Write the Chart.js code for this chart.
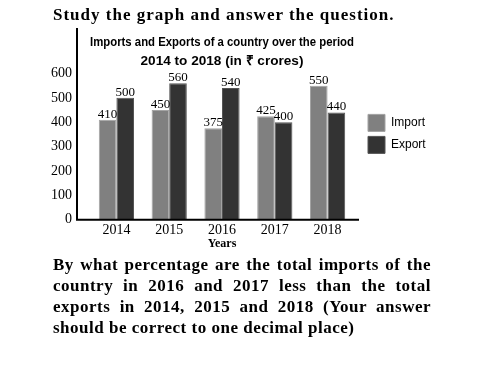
<!DOCTYPE html>
<html>
<head>
<meta charset="utf-8">
<script src="https://cdn.jsdelivr.net/npm/chart.js@4"></script>
<style>
  body { margin: 0; background: #fff; }
  #wrap { position: relative; width: 483px; height: 368px; overflow: hidden; }
  #myChart { position: absolute; left: 0; top: 0; }
  .head { position: absolute; left: 53px; top: 5px; font: bold 17px "Liberation Serif", "Times New Roman", serif; letter-spacing: 1px; color: #000; white-space: nowrap; }
  .question { position: absolute; left: 53px; top: 254px; width: 378px; font: bold 17px/21px "Liberation Serif", "Times New Roman", serif; letter-spacing: 0.5px; text-align: justify; color: #000; }
</style>
</head>
<body>
<div id="wrap">
  <canvas id="myChart" width="483" height="368"></canvas>
  <div class="head">Study the graph and answer the question.</div>
  <div class="question">By what percentage are the total imports of the country in 2016 and 2017 less than the total exports in 2014, 2015 and 2018 (Your answer should be correct to one decimal place)</div>
</div>
<script>
let years = ['2014', '2015', '2016', '2017', '2018'];
let imports = [410, 450, 375, 425, 550];
let exports = [500, 560, 540, 400, 440];
let yTicks = [0, 100, 200, 300, 400, 500, 600];

let ctx = document.getElementById('myChart').getContext('2d');

// axis lines reach past the plot area, and the numbers sit on the bars
const extras = {
    id: 'extras',
    afterDatasetsDraw(chart) {
        let c = chart.ctx,
            a = chart.chartArea,
            top = chart.options.layout.padding.top;
        c.save();
        c.strokeStyle = '#000';
        c.lineWidth = 2;
        c.beginPath();
        c.moveTo(a.left - 13, top);
        c.lineTo(a.left - 13, a.bottom);
        c.lineTo(a.right + 5, a.bottom);
        c.stroke();

        c.font = '13px "Liberation Serif", "Times New Roman", serif';
        c.fillStyle = '#000';
        c.textAlign = 'center';
        c.textBaseline = 'bottom';
        chart.data.datasets.forEach((ds, i) => {
            chart.getDatasetMeta(i).data.forEach((bar, j) => {
                c.fillText(ds.data[j], bar.x, bar.y + 1);
            });
        });
        c.restore();
    }
};

let myChart = new Chart(ctx, {
    type: 'bar',
    data: {
        labels: years,
        datasets: [{
            label: 'Import',
            data: imports,
            backgroundColor: '#808080',
            borderColor: '#a3a3a3',
            borderWidth: 1
        }, {
            label: 'Export',
            data: exports,
            backgroundColor: '#333333',
            borderColor: '#555555',
            borderWidth: 1
        }]
    },
    options: {
        responsive: false,
        animation: false,
        layout: { padding: { top: 28, left: 33, right: 54, bottom: 117 } },
        categoryPercentage: 0.667,
        barPercentage: 1,
        plugins: {
            title: {
                display: true,
                fullSize: false,
                text: ['Imports and Exports of a country over the period', '2014 to 2018 (in ₹ crores)'],
                color: '#000',
                font: { family: '"Liberation Sans", Arial, sans-serif', size: 13.6, weight: 'bold', lineHeight: 1.45 },
                padding: { top: 4, bottom: 2 }
            },
            legend: {
                position: 'right',
                align: 'start',
                title: { display: true, text: '', padding: { top: 67, bottom: 0 } },
                labels: {
                    boxWidth: 17,
                    boxHeight: 17,
                    padding: 5,
                    color: '#000',
                    font: { family: '"Liberation Sans", Arial, sans-serif', size: 12 }
                }
            },
            tooltip: { enabled: false }
        },
        scales: {
            x: {
                grid: { display: false, drawTicks: false },
                border: { display: false },
                ticks: {
                    color: '#000',
                    padding: 2,
                    font: { family: '"Liberation Serif", "Times New Roman", serif', size: 14 }
                },
                title: {
                    display: true,
                    text: 'Years',
                    color: '#000',
                    padding: { top: -4, bottom: 0 },
                    font: { family: '"Liberation Serif", "Times New Roman", serif', size: 12, weight: 'bold' }
                }
            },
            y: {
                min: 0,
                max: 600,
                afterBuildTicks: s => { s.ticks = yTicks.map(v => ({ value: v })); },
                grid: { display: false, drawTicks: false },
                border: { display: false },
                ticks: {
                    color: '#000',
                    padding: 18,
                    font: { family: '"Liberation Serif", "Times New Roman", serif', size: 14 }
                }
            },
            gap: {
                position: 'right',
                display: true,
                grid: { display: false, drawTicks: false },
                border: { display: false },
                ticks: { display: false },
                afterFit: s => { s.width = 9; }
            }
        }
    },
    plugins: [extras]
});
</script>
</body>
</html>
